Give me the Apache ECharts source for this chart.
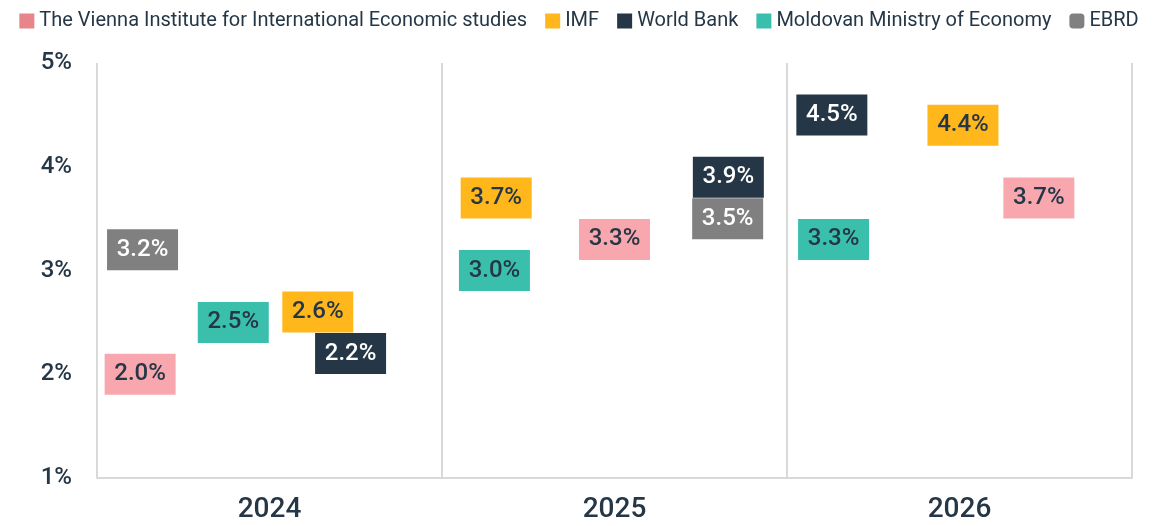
<!DOCTYPE html>
<html lang="en">
<head>
    <meta charset="UTF-8">
    <title>Moldova GDP growth forecasts</title>
    <script src="https://cdn.jsdelivr.net/npm/echarts@6/dist/echarts.min.js"></script>
    <style>
        html, body { margin: 0; padding: 0; background: #fff; }
        #main { width: 1158px; height: 526px; }
    </style>
</head>
<body>
<div id="main"></div>
<script type="text/javascript">
    // years on the x axis
    var years = ['2024', '2025', '2026'];
    var yTicks = [1, 2, 3, 4, 5];

    // forecast values (%) per source, one per year
    var viennaVals = [2.0, 3.3, 3.7];
    var imfVals = [2.6, 3.7, 4.4];
    var wbVals = [2.2, 3.9, 4.5];
    var moldovaVals = [2.5, 3.0, 3.3];
    var ebrdVals = [3.2, 3.5, null];

    // where each box sits inside its year column (0 = left edge, 1 = right edge)
    var viennaPos = [0.125, 0.50, 0.73];
    var imfPos = [0.64, 0.157, 0.51];
    var wbPos = [0.735, 0.83, 0.13];
    var moldovaPos = [0.395, 0.152, 0.135];
    var ebrdPos = [0.132, 0.828, null];

    var dark = '#253746';
    var font = 'Roboto, "Noto Sans", sans-serif';

    function pts(vals, pos) {
        var out = [];
        for (var i = 0; i < vals.length; i++) {
            if (vals[i] == null) continue;
            out.push([i + pos[i], vals[i]]);
        }
        return out;
    }

    function boxSeries(name, vals, pos, boxColor, textColor) {
        return {
            name: name,
            type: 'scatter',
            xAxisIndex: 1,
            symbol: 'rect',
            symbolSize: [71, 41],
            itemStyle: { color: boxColor, opacity: 1 },
            emphasis: { disabled: true },
            label: {
                show: true,
                position: 'inside',
                color: textColor,
                fontFamily: font,
                fontSize: 24,
                fontWeight: 500,
                formatter: function (p) { return p.value[1].toFixed(1) + '%'; }
            },
            data: pts(vals, pos)
        };
    }

    var myChart = echarts.init(document.getElementById('main'));
    myChart.setOption({
        animation: false,
        legend: {
            top: 6,
            left: 'center',
            itemWidth: 15,
            itemHeight: 15,
            itemGap: 18,
            textStyle: { color: dark, fontFamily: font, fontSize: 20 },
            data: [
                { name: 'The Vienna Institute for International Economic studies', icon: 'rect', itemStyle: { color: '#E8858A' } },
                { name: 'IMF', icon: 'rect' },
                { name: 'World Bank', icon: 'rect' },
                { name: 'Moldovan Ministry of Economy', icon: 'rect' },
                { name: 'EBRD', icon: 'roundRect' }
            ]
        },
        grid: { left: 97, right: 26, top: 63, bottom: 48 },
        xAxis: [{
            type: 'category',
            data: years,
            boundaryGap: true,
            axisLine: { lineStyle: { color: '#d9d9d9', width: 2 } },
            axisTick: { show: false },
            axisLabel: { color: dark, fontFamily: font, fontSize: 28, fontWeight: 500, margin: 18 },
            splitLine: { show: true, lineStyle: { color: '#d9d9d9', width: 2 } }
        }, {
            type: 'value',
            min: 0,
            max: 3,
            show: false
        }],
        yAxis: {
            type: 'value',
            min: yTicks[0],
            max: yTicks[yTicks.length - 1],
            interval: 1,
            axisLine: { show: false },
            axisTick: { show: false },
            splitLine: { show: false },
            axisLabel: {
                color: dark, fontFamily: font, fontSize: 24, fontWeight: 500, margin: 25,
                formatter: '{value}%'
            }
        },
        series: [
            boxSeries('The Vienna Institute for International Economic studies', viennaVals, viennaPos, '#F9A7AE', dark),
            boxSeries('IMF', imfVals, imfPos, '#FFB71B', dark),
            boxSeries('World Bank', wbVals, wbPos, '#253746', '#ffffff'),
            boxSeries('Moldovan Ministry of Economy', moldovaVals, moldovaPos, '#3BBFAD', dark),
            boxSeries('EBRD', ebrdVals, ebrdPos, '#808080', '#ffffff')
        ]
    });
</script>
</body>
</html>
